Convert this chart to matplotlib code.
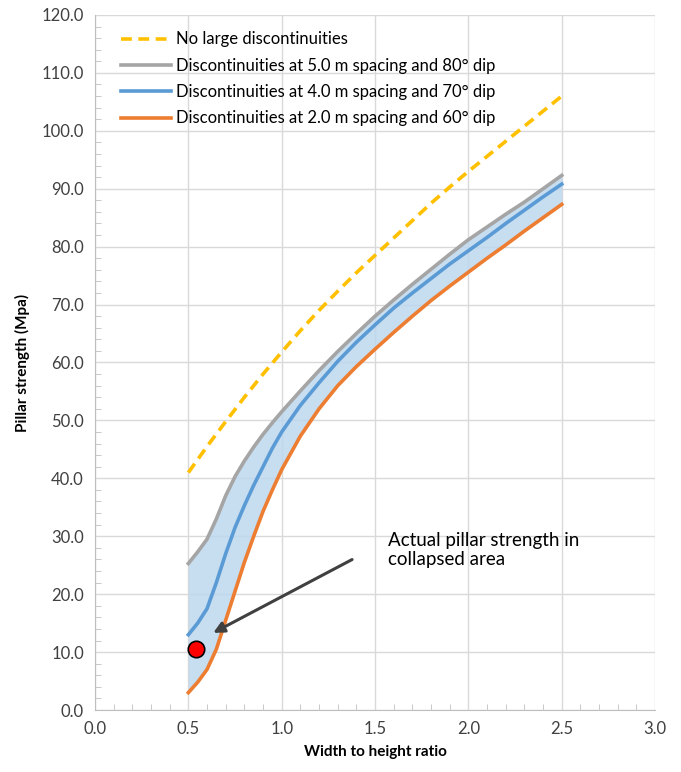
import numpy as np
import matplotlib.pyplot as plt
from matplotlib.ticker import MultipleLocator, FormatStrFormatter

# =========================
# Data
# =========================
x_none = [0.5, 0.6, 0.7, 0.8, 0.9, 1.0, 1.1, 1.2, 1.3, 1.4, 1.5, 1.6, 1.7, 1.8,
          1.9, 2.0, 2.1, 2.2, 2.3, 2.4, 2.5]
y_none = [41.0, 45.5, 49.8, 54.0, 58.0, 61.8, 65.5, 69.0, 72.3, 75.5, 78.5, 81.5,
          84.5, 87.5, 90.3, 93.0, 95.6, 98.2, 100.8, 103.4, 106.0]

ratio = [0.5, 0.55, 0.6, 0.65, 0.7, 0.75, 0.8, 0.85, 0.9, 0.95, 1.0, 1.1, 1.2, 1.3,
         1.4, 1.5, 1.6, 1.7, 1.8, 1.9, 2.0, 2.1, 2.2, 2.3, 2.4, 2.5]
y_s5 = [25.3, 27.3, 29.5, 33.0, 37.0, 40.3, 43.0, 45.4, 47.6, 49.6, 51.5, 55.1, 58.6,
        61.9, 65.0, 68.0, 70.8, 73.5, 76.1, 78.7, 81.2, 83.4, 85.6, 87.7, 90.0, 92.3]
y_s4 = [13.0, 15.0, 17.5, 22.0, 27.0, 31.5, 35.3, 38.8, 42.0, 45.2, 48.0, 52.6, 56.5,
        60.2, 63.5, 66.5, 69.4, 72.0, 74.5, 77.0, 79.3, 81.6, 84.0, 86.3, 88.6, 90.8]
y_s2 = [3.0, 4.8, 7.0, 10.5, 15.5, 20.5, 25.5, 30.0, 34.3, 38.0, 41.5, 47.3, 52.0,
        56.0, 59.3, 62.3, 65.2, 68.0, 70.7, 73.2, 75.6, 78.0, 80.3, 82.7, 85.0, 87.3]

labels = ["No large discontinuities",
          "Discontinuities at 5.0 m spacing and 80° dip",
          "Discontinuities at 4.0 m spacing and 70° dip",
          "Discontinuities at 2.0 m spacing and 60° dip"]

actual_x, actual_y = 0.54, 10.5

plt.rcParams['font.family'] = ['Lato', 'DejaVu Sans']

fig = plt.figure(figsize=(6.81, 7.72), dpi=100)
ax = fig.add_axes([0.1395, 0.0803, 0.8225, 0.9003])

# shaded band between upper and lower curves
ax.fill_between(ratio, y_s2, y_s5, color='#BDD7EE', alpha=0.85, lw=0, zorder=1)

ax.plot(x_none, y_none, color='#FFC000', lw=2.6, ls=(0, (3, 1.8)), label=labels[0], zorder=3)
ax.plot(ratio, y_s5, color='#A5A5A5', lw=2.6, label=labels[1], zorder=3)
ax.plot(ratio, y_s4, color='#5B9BD5', lw=2.6, label=labels[2], zorder=3)
ax.plot(ratio, y_s2, color='#ED7D31', lw=2.6, label=labels[3], zorder=3)

ax.scatter([actual_x], [actual_y], s=140, color='#FF0000', edgecolors='black',
           linewidths=1.2, zorder=5)

ax.annotate('', xy=(0.62, 13.1), xytext=(1.39, 26.2),
            arrowprops=dict(arrowstyle='-|>', color='#404040', lw=2.2,
                            mutation_scale=16), zorder=4)
ax.text(1.57, 30.8, "Actual pillar strength in\ncollapsed area",
        fontsize=13.5, color='black', va='top', ha='left', linespacing=1.2)

# axes
ax.set_xlim(0, 3.0)
ax.set_ylim(0, 120)
ax.xaxis.set_major_locator(MultipleLocator(0.5))
ax.xaxis.set_minor_locator(MultipleLocator(0.1))
ax.yaxis.set_major_locator(MultipleLocator(10))
ax.yaxis.set_minor_locator(MultipleLocator(2))
ax.xaxis.set_major_formatter(FormatStrFormatter('%.1f'))
ax.yaxis.set_major_formatter(FormatStrFormatter('%.1f'))
ax.grid(True, which='major', color='#D9D9D9', lw=1.0, zorder=0)
ax.set_axisbelow(True)
for s in ['top', 'right']:
    ax.spines[s].set_visible(False)
for s in ['left', 'bottom']:
    ax.spines[s].set_color('#BFBFBF')
ax.tick_params(which='major', length=0, labelsize=12, labelcolor='#404040', pad=8)
ax.tick_params(which='minor', direction='in', length=4, color='#BFBFBF')

ax.set_xlabel("Width to height ratio", fontsize=11, fontweight='bold', labelpad=6)
ax.set_ylabel("Pillar strength (Mpa)", fontsize=11, fontweight='bold', labelpad=8)

ax.legend(loc='upper left', bbox_to_anchor=(0.02, 0.998), frameon=False,
          fontsize=12, handlelength=3.0, handletextpad=0.3, labelspacing=0.62)

plt.savefig("out.png", dpi=100)
